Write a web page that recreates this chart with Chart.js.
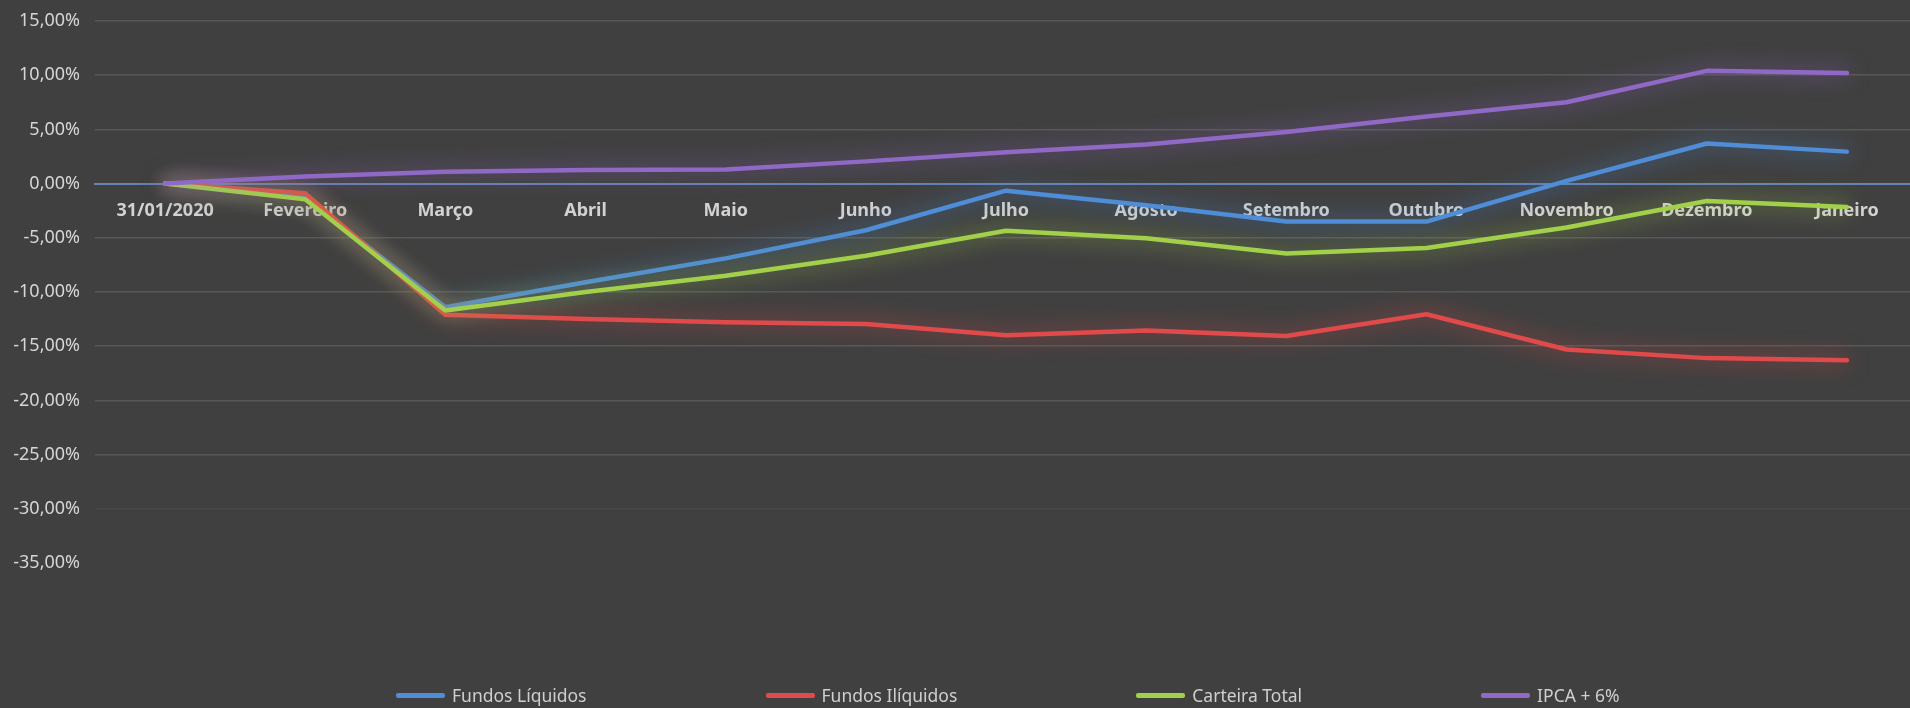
<!DOCTYPE html>
<html lang="pt-BR">
<head>
<meta charset="utf-8">
<title>Rentabilidade</title>
<script src="https://cdn.jsdelivr.net/npm/chart.js@4/dist/chart.umd.min.js"></script>
<style>
    html, body {
        margin: 0;
        padding: 0;
        background: #404040;
        overflow: hidden;
    }
    #wrap {
        position: relative;
        width: 1918px;
        height: 708px;
    }
    #grafico {
        position: absolute;
        left: 0;
        top: 0;
    }
    .legenda {
        position: absolute;
        left: 396px;
        top: 683px;
        display: flex;
        gap: 179px;
        font-family: "Noto Sans", sans-serif;
        font-size: 17.5px;
        color: #cfcfcf;
        line-height: 24px;
    }
    .legenda-item {
        display: flex;
        align-items: center;
    }
    .legenda-item span.traco {
        display: inline-block;
        width: 49px;
        height: 5px;
        border-radius: 2px;
        margin-right: 7px;
    }
</style>
</head>
<body>
<div id="wrap">
    <canvas id="grafico" width="1918" height="708"></canvas>
    <div class="legenda" id="legenda"></div>
</div>
<script>
// Dados (em %)
const meses = ['31/01/2020', 'Fevereiro', 'Março', 'Abril', 'Maio', 'Junho', 'Julho',
    'Agosto', 'Setembro', 'Outubro', 'Novembro', 'Dezembro', 'Janeiro'];

const fundosLiquidos = [0, -1.3, -11.4, -9.1, -6.9, -4.3, -0.65, -2.0, -3.5, -3.5, 0.25, 3.7, 2.95];
const fundosIliquidos = [0, -0.9, -12.1, -12.5, -12.8, -12.95, -14.0, -13.55, -14.05, -12.05, -15.3, -16.1, -16.3];
const carteiraTotal = [0, -1.45, -11.7, -10.0, -8.5, -6.65, -4.35, -5.05, -6.45, -5.95, -4.05, -1.6, -2.15];
const ipcaMais6 = [0, 0.65, 1.1, 1.25, 1.3, 2.05, 2.9, 3.6, 4.75, 6.2, 7.5, 10.4, 10.2];

const nomesSeries = ['Fundos Líquidos', 'Fundos Ilíquidos', 'Carteira Total', 'IPCA + 6%'];
const coresSeries = ['#4f8dd6', '#e04a4a', '#a2d04b', '#9068c6'];

const eixoMin = -35;
const eixoMax = 15;
const eixoPasso = 5;

// Formatação "15,00%"
function formatarPct(v) {
    return v.toFixed(2).replace('.', ',') + '%';
}

function rgba(hex, a) {
    const n = parseInt(hex.slice(1), 16);
    return 'rgba(' + (n >> 16 & 255) + ',' + (n >> 8 & 255) + ',' + (n & 255) + ',' + a + ')';
}

// Efeito de brilho em volta das linhas
const brilho = {
    id: 'brilho',
    beforeDatasetDraw(chart, args) {
        const ctx = chart.ctx;
        ctx.save();
        ctx.shadowColor = rgba(args.meta.dataset.options.borderColor, 0.85);
        ctx.shadowBlur = 22;
    },
    afterDatasetDraw(chart) {
        chart.ctx.restore();
    }
};

const valores = [fundosLiquidos, fundosIliquidos, carteiraTotal, ipcaMais6];
const ordens = [4, 3, 2, 1];

const datasets = valores.map((serie, i) => ({
    label: nomesSeries[i],
    data: serie,
    borderColor: coresSeries[i],
    backgroundColor: coresSeries[i],
    borderWidth: 4.5,
    borderCapStyle: 'round',
    borderJoinStyle: 'round',
    pointRadius: 0,
    tension: 0,
    order: ordens[i]
}));

new Chart(document.getElementById('grafico'), {
    type: 'line',
    data: {
        labels: meses,
        datasets: datasets
    },
    options: {
        responsive: false,
        animation: false,
        layout: {
            padding: { top: 21, bottom: 145, left: 0, right: 1 }
        },
        plugins: {
            legend: { display: false },
            tooltip: { enabled: false }
        },
        scales: {
            x: {
                position: { y: 0 },
                offset: true,
                grid: { display: false, drawTicks: false },
                border: { display: true, color: '#6683ae', width: 2 },
                ticks: {
                    color: '#d2d2d2',
                    padding: 16,
                    maxRotation: 0,
                    autoSkip: false,
                    font: { family: 'Noto Sans', size: 18, weight: 'bold' }
                },
                afterFit(scale) {
                    scale.height = 0;
                    scale.paddingLeft = 0;
                    scale.paddingRight = 0;
                }
            },
            y: {
                min: eixoMin,
                max: eixoMax,
                grid: {
                    drawTicks: false,
                    lineWidth: 1.5,
                    color: ctx => {
                        const v = ctx.tick.value;
                        if (v <= -35) return 'rgba(0,0,0,0)';
                        if (v <= -30) return '#484848';
                        return '#585858';
                    }
                },
                border: { display: false },
                ticks: {
                    stepSize: eixoPasso,
                    color: '#d6d6d6',
                    padding: 15,
                    font: { family: 'Noto Sans', size: 18 },
                    callback: v => formatarPct(v)
                },
                afterFit(scale) {
                    scale.width = 95;
                    scale.paddingTop = 0;
                    scale.paddingBottom = 0;
                }
            }
        }
    },
    plugins: [brilho]
});

// Legenda abaixo do gráfico
const legenda = document.getElementById('legenda');
nomesSeries.forEach((nome, i) => {
    const item = document.createElement('div');
    item.className = 'legenda-item';
    item.innerHTML = '<span class="traco" style="background:' + coresSeries[i] + '"></span>' + nome;
    legenda.appendChild(item);
});
</script>
</body>
</html>
